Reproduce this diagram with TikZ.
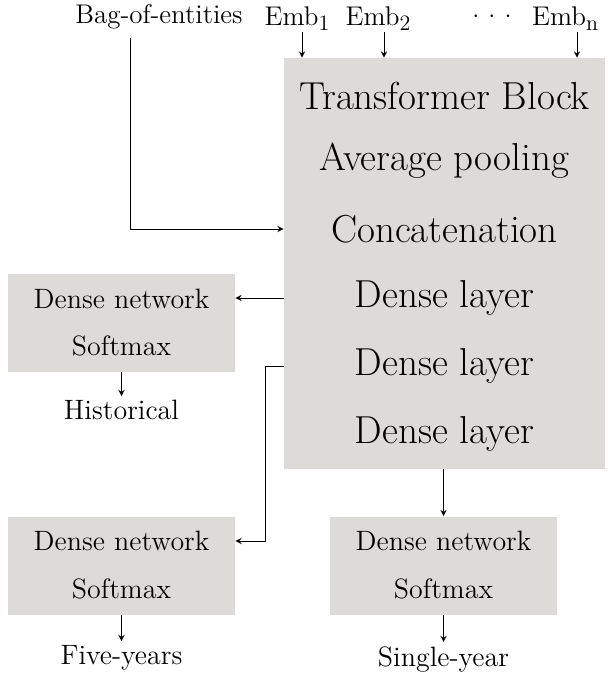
\documentclass[tikz,border=0pt]{standalone}
\usetikzlibrary{calc}
\definecolor{boxgray}{RGB}{221,219,215}
\newcommand{\embsub}[1]{\raisebox{-0.45ex}{\fontsize{11}{12}\selectfont #1}}
\tikzset{
  bigbox/.style={fill=boxgray, inner sep=0pt, minimum width=160.5pt, minimum height=205.5pt},
  smallbox/.style={fill=boxgray, inner sep=0pt, minimum width=113.5pt, minimum height=49pt},
  bigtxt/.style={font=\fontsize{19.5}{22}\selectfont, inner sep=0pt},
  midtxt/.style={font=\fontsize{14}{16}\selectfont, inner sep=0pt},
  outlbl/.style={font=\fontsize{14}{16}\selectfont, inner sep=2pt},
  toplbl/.style={font=\fontsize{13.5}{15}\selectfont, inner sep=0pt},
}
\begin{document}
\begin{tikzpicture}[x=0.5pt,y=-0.5pt,>=stealth]
  \useasboundingbox (0,0) rectangle (613,675);
  % boxes
  \node[bigbox] (main) at (444.5,263.5) {};
  \node[smallbox] (hist) at (121.5,323) {};
  \node[smallbox] (five) at (121.5,565.5) {};
  \node[smallbox] (single) at (443.5,565.5) {};
  % main block
  \node[bigtxt] (trans) at (444.5,96) {Transformer Block};
  \node[bigtxt] (avg) at (444.5,161) {Average pooling};
  \node[bigtxt] (concat) at (444.5,229) {Concatenation};
  \node[bigtxt] (dla) at (444.5,298) {Dense layer};
  \node[bigtxt] (dlb) at (444.5,366) {Dense layer};
  \node[bigtxt] (dlc) at (444.5,434) {Dense layer};
  % heads
  \node[midtxt] (histdn) at (121.5,299) {Dense network};
  \node[midtxt] (histsm) at (121.5,346) {Softmax};
  \node[midtxt] (fivedn) at (121.5,541) {Dense network};
  \node[midtxt] (fivesm) at (121.5,589) {Softmax};
  \node[midtxt] (singledn) at (443.5,541) {Dense network};
  \node[midtxt] (singlesm) at (443.5,589) {Softmax};
  % outputs
  \node[outlbl, anchor=north] (histlbl) at (121.5,396) {Historical};
  \node[outlbl, anchor=north] (fivelbl) at (121.5,641) {Five-years};
  \node[outlbl, anchor=north] (singlelbl) at (443.5,642) {Single-year};
  % inputs
  \node[toplbl] (bag) at (159,17) {Bag-of-entities};
  \node[toplbl] (emba) at (297,19) {Emb\embsub{1}};
  \node[toplbl] (embb) at (378,19) {Emb\embsub{2}};
  \node[toplbl, anchor=base] (dots) at (492,25) {·\kern-2.2pt·\kern-2.2pt·};
  \node[toplbl] (embn) at (565,19) {Emb\embsub{n}};
  \coordinate (ea) at (302,32);
  \coordinate (eb) at (384,32);
  \coordinate (en) at (577,32);
  \coordinate (bagtop) at (130,38);
  \coordinate (bend) at (265,541);
  % connectors
  \draw[->] (ea) -- (ea |- main.north);
  \draw[->] (eb) -- (eb |- main.north);
  \draw[->] (en) -- (en |- main.north);
  \draw[->] (bagtop) |- (main.west |- concat);
  \draw[->] (main.west |- dla) -- (hist.east |- dla);
  \draw[->] (main.west |- dlb) -| (bend) -- (five.east |- bend);
  \draw[->] (single.north |- main.south) -- (single.north);
  \draw[->] (hist.south) -- (histlbl.north);
  \draw[->] (five.south) -- (fivelbl.north);
  \draw[->] (single.south) -- (singlelbl.north);
\end{tikzpicture}
\end{document}
